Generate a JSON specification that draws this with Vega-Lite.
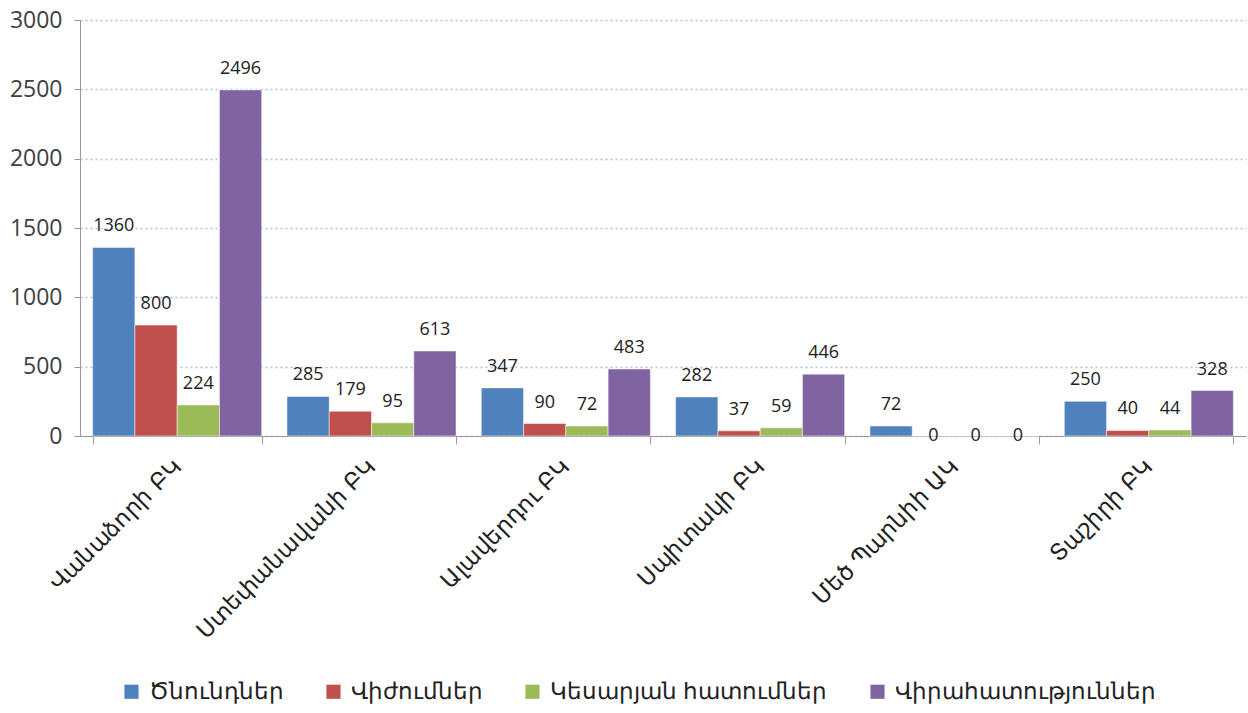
{
  "$schema": "https://vega.github.io/schema/vega-lite/v6.json",
  "width": 1166,
  "height": 416,
  "autosize": "none",
  "padding": {"left": 80, "top": 20, "right": 2, "bottom": 277},
  "background": "white",
  "config": {"view": {"stroke": null}},
  "data": {"values": [
    {"c": "Վանաձորի ԲԿ", "s": "Ծնունդներ", "o": 1, "v": 1360},
    {"c": "Վանաձորի ԲԿ", "s": "Վիժումներ", "o": 2, "v": 800},
    {"c": "Վանաձորի ԲԿ", "s": "Կեսարյան հատումներ", "o": 3, "v": 224},
    {"c": "Վանաձորի ԲԿ", "s": "Վիրահատություններ", "o": 4, "v": 2496},
    {"c": "Ստեփանավանի ԲԿ", "s": "Ծնունդներ", "o": 1, "v": 285},
    {"c": "Ստեփանավանի ԲԿ", "s": "Վիժումներ", "o": 2, "v": 179},
    {"c": "Ստեփանավանի ԲԿ", "s": "Կեսարյան հատումներ", "o": 3, "v": 95},
    {"c": "Ստեփանավանի ԲԿ", "s": "Վիրահատություններ", "o": 4, "v": 613},
    {"c": "Ալավերդու ԲԿ", "s": "Ծնունդներ", "o": 1, "v": 347},
    {"c": "Ալավերդու ԲԿ", "s": "Վիժումներ", "o": 2, "v": 90},
    {"c": "Ալավերդու ԲԿ", "s": "Կեսարյան հատումներ", "o": 3, "v": 72},
    {"c": "Ալավերդու ԲԿ", "s": "Վիրահատություններ", "o": 4, "v": 483},
    {"c": "Սպիտակի ԲԿ", "s": "Ծնունդներ", "o": 1, "v": 282},
    {"c": "Սպիտակի ԲԿ", "s": "Վիժումներ", "o": 2, "v": 37},
    {"c": "Սպիտակի ԲԿ", "s": "Կեսարյան հատումներ", "o": 3, "v": 59},
    {"c": "Սպիտակի ԲԿ", "s": "Վիրահատություններ", "o": 4, "v": 446},
    {"c": "Մեծ Պարնիի ԱԿ", "s": "Ծնունդներ", "o": 1, "v": 72},
    {"c": "Մեծ Պարնիի ԱԿ", "s": "Վիժումներ", "o": 2, "v": 0},
    {"c": "Մեծ Պարնիի ԱԿ", "s": "Կեսարյան հատումներ", "o": 3, "v": 0},
    {"c": "Մեծ Պարնիի ԱԿ", "s": "Վիրահատություններ", "o": 4, "v": 0},
    {"c": "Տաշիրի ԲԿ", "s": "Ծնունդներ", "o": 1, "v": 250},
    {"c": "Տաշիրի ԲԿ", "s": "Վիժումներ", "o": 2, "v": 40},
    {"c": "Տաշիրի ԲԿ", "s": "Կեսարյան հատումներ", "o": 3, "v": 44},
    {"c": "Տաշիրի ԲԿ", "s": "Վիրահատություններ", "o": 4, "v": 328}
  ]},
  "encoding": {
    "x": {
      "field": "c", "type": "nominal", "sort": null, "title": null,
      "scale": {"paddingInner": 0.13, "paddingOuter": 0.065},
      "axis": {
        "labelAngle": -45, "labelAlign": "right", "labelBaseline": "middle",
        "labelFontSize": 23, "labelColor": "#222", "labelLimit": 0,
        "labelPadding": 19, "tickBand": "extent", "tickSize": 8, "tickColor": "#999",
        "domainColor": "#999", "grid": false
      }
    },
    "xOffset": {"field": "o", "type": "ordinal"},
    "y": {
      "field": "v", "type": "quantitative", "title": null,
      "scale": {"domain": [0, 3000]},
      "axis": {
        "values": [0, 500, 1000, 1500, 2000, 2500, 3000], "format": "d",
        "labelFont": "Open Sans", "labelFontSize": 23, "labelColor": "#404040",
        "labelPadding": 12, "tickSize": 6, "tickColor": "#999", "domainColor": "#999",
        "grid": true, "gridColor": "#a9c0ea", "gridDash": [2, 3], "gridWidth": 1.5
      }
    }
  },
  "layer": [
    {
      "mark": {"type": "bar", "stroke": "white", "strokeWidth": 0.5},
      "encoding": {
        "color": {
          "field": "s", "type": "nominal", "title": null,
          "sort": ["Ծնունդներ", "Վիժումներ", "Կեսարյան հատումներ", "Վիրահատություններ"],
          "scale": {
            "domain": ["Ծնունդներ", "Վիժումներ", "Կեսարյան հատումներ", "Վիրահատություններ"],
            "range": ["#4F81BD", "#C0504D", "#9BBB59", "#8064A2"]
          },
          "legend": {
            "orient": "none", "direction": "horizontal", "legendX": 40, "legendY": 660,
            "symbolType": "square", "symbolSize": 200, "symbolStrokeWidth": 0,
            "labelFontSize": 23, "labelColor": "#222", "labelLimit": 0,
            "columnPadding": 38, "labelOffset": 6
          }
        }
      }
    },
    {
      "transform": [{"filter": "datum.v > 0"}],
      "mark": {"type": "text", "baseline": "bottom", "dy": -12, "font": "Open Sans", "fontSize": 18, "color": "#222"},
      "encoding": {"text": {"field": "v", "type": "quantitative"}}
    },
    {
      "transform": [{"filter": "datum.v == 0"}],
      "mark": {"type": "text", "baseline": "middle", "dy": 0, "font": "Open Sans", "fontSize": 18, "color": "#222"},
      "encoding": {"text": {"field": "v", "type": "quantitative"}}
    }
  ]
}
